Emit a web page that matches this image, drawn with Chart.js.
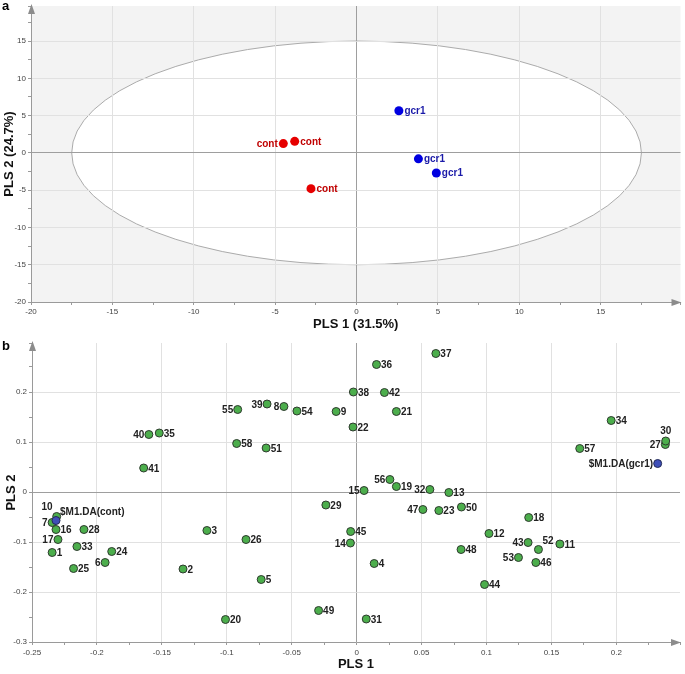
<!DOCTYPE html>
<html>
<head>
<meta charset="utf-8">
<script src="https://cdn.jsdelivr.net/npm/chart.js@4"></script>
<style>
  body { margin:0; background:#fff; }
  #wrap { position:relative; width:685px; height:674px; overflow:hidden; }
  canvas { position:absolute; left:0; }
  .plab { position:absolute; font:bold 13px "Liberation Sans", Arial, sans-serif; line-height:13px; color:#000; }
</style>
</head>
<body>
<div id="wrap">
  <canvas id="ca" width="685" height="335" style="top:0"></canvas>
  <canvas id="cb" width="685" height="344" style="top:330px"></canvas>
  <div class="plab" style="left:2px;top:-1px">a</div>
  <div class="plab" style="left:2px;top:339px">b</div>
</div>
<script>
// ---------- Panel a: PLS-DA scores ----------
const A_CONT_X = [-4.5, -3.8, -2.8];
const A_CONT_Y = [1.25, 1.55, -4.8];
const A_CONT_LABELS = ['cont', 'cont', 'cont'];
const A_GCR1_X = [2.6, 3.8, 4.9];
const A_GCR1_Y = [5.65, -0.8, -2.7];
const A_GCR1_LABELS = ['gcr1', 'gcr1', 'gcr1'];
const A_ELLIPSE_RX = 17.5;   // Hotelling T2 ellipse semi-axes
const A_ELLIPSE_RY = 15;
const A_X_MAJOR = [-20, -15, -10, -5, 0, 5, 10, 15];
const A_Y_MAJOR = [-20, -15, -10, -5, 0, 5, 10, 15];
const A_X_TITLE = 'PLS 1 (31.5%)';
const A_Y_TITLE = 'PLS 2 (24.7%)';

// ---------- Panel b: loadings ----------
const B_IDS = ['1','2','3','4','5','6','7','8','9','10','11','12','13','14','15','16','17','18','19','20',
  '21','22','23','24','25','26','27','28','29','30','31','32','33','34','35','36','37','38','39','40',
  '41','42','43','44','45','46','47','48','49','50','51','52','53','54','55','56','57','58'];
const B_X = [-0.2345, -0.1337, -0.1153, 0.0135, -0.0735, -0.1937, -0.2345, -0.056, -0.0158, -0.231,
  0.1565, 0.1019, 0.071, -0.0048, 0.0057, -0.2315, -0.230, 0.1325, 0.0306, -0.101,
  0.0306, -0.0028, 0.0633, -0.1886, -0.218, -0.0852, 0.2377, -0.210, -0.0237, 0.238,
  0.0074, 0.0564, -0.2154, 0.196, -0.152, 0.0153, 0.061, -0.0025, -0.069, -0.160,
  -0.164, 0.0214, 0.132, 0.0985, -0.0046, 0.138, 0.051, 0.0804, -0.0293, 0.0807,
  -0.0697, 0.140, 0.1246, -0.046, -0.0916, 0.0256, 0.1718, -0.0924];
const B_Y = [-0.121, -0.154, -0.077, -0.143, -0.175, -0.141, -0.061, 0.171, 0.161, -0.049,
  -0.104, -0.083, -0.001, -0.102, 0.003, -0.075, -0.095, -0.051, 0.011, -0.255,
  0.161, 0.130, -0.037, -0.119, -0.153, -0.095, 0.095, -0.075, -0.026, 0.102,
  -0.254, 0.005, -0.109, 0.143, 0.118, 0.255, 0.277, 0.200, 0.176, 0.115,
  0.048, 0.199, -0.101, -0.185, -0.079, -0.141, -0.035, -0.115, -0.237, -0.030,
  0.088, -0.115, -0.131, 0.162, 0.165, 0.025, 0.087, 0.097];
const B_DA_LABELS = ['$M1.DA(cont)', '$M1.DA(gcr1)'];
const B_DA_X = [-0.2315, 0.2318];
const B_DA_Y = [-0.057, 0.057];
const B_X_MAJOR = [-0.25, -0.2, -0.15, -0.1, -0.05, 0, 0.05, 0.1, 0.15, 0.2];
const B_Y_MAJOR = [-0.3, -0.2, -0.1, 0, 0.1, 0.2];
const B_X_TITLE = 'PLS 1';
const B_Y_TITLE = 'PLS 2';

// label placement (style, not data)
const B_PLACE = {
  '55':'left','40':'left','39':'left','8':'left','7':'left','17':'left','6':'left','15':'left',
  '56':'left','32':'left','47':'left','14':'left','43':'left','53':'left','27':'left',
  '10':'upleft','30':'up','52':'upright',
  '$M1.DA(cont)':'upright','$M1.DA(gcr1)':'left'
};
const A_PLACE_FIRST_LEFT = true;

function pts(xs, ys) { return xs.map((x, i) => ({x: x, y: ys[i]})); }
const isIn = (v, arr) => arr.some(m => Math.abs(m - v) < 1e-9);
const fmt = v => String(Number(v.toFixed(4)));

const TICK_FONT = {family: '"Liberation Sans", Arial, sans-serif', size: 8, lineHeight: 1};
const TITLE_FONT = {family: '"Liberation Sans", Arial, sans-serif', size: 13, weight: 'bold'};

function makeScale(o) {
  return {
    type: 'linear', position: o.position, min: o.min, max: o.max,
    afterFit: s => { if (o.position === 'left') s.width = o.thick; else s.height = o.thick; },
    ticks: {
      stepSize: o.minor, autoSkip: false, maxRotation: 0, minRotation: 0,
      font: TICK_FONT, color: '#444', padding: o.tpad,
      callback: v => isIn(v, o.major) ? fmt(v) : ''
    },
    grid: {
      drawTicks: true, tickLength: 3, tickColor: '#9a9a9a', lineWidth: 1,
      color: c => {
        const v = c.tick ? c.tick.value : NaN;
        if (Math.abs(v) < 1e-12) return '#9e9e9e';
        return isIn(v, o.gridVals) ? '#e1e1e1' : 'rgba(0,0,0,0)';
      }
    },
    border: {display: true, color: '#9a9a9a', width: 1},
    title: {display: true, text: o.title, font: TITLE_FONT, color: '#111', padding: o.titlePad}
  };
}

const arrowPlugin = {
  id: 'arrows',
  afterDraw(chart) {
    const {ctx, chartArea: a} = chart;
    ctx.save();
    ctx.fillStyle = '#8c8c8c';
    ctx.beginPath();
    ctx.moveTo(a.left + 0.5, a.top - 2); ctx.lineTo(a.left - 3, a.top + 8); ctx.lineTo(a.left + 4, a.top + 8);
    ctx.closePath(); ctx.fill();
    ctx.beginPath();
    ctx.moveTo(a.right + 1, a.bottom + 0.5); ctx.lineTo(a.right - 9, a.bottom - 3); ctx.lineTo(a.right - 9, a.bottom + 4);
    ctx.closePath(); ctx.fill();
    ctx.restore();
  }
};

const labelPlugin = {
  id: 'pointLabels',
  afterDatasetsDraw(chart) {
    const ctx = chart.ctx;
    chart.data.datasets.forEach((ds, di) => {
      if (!ds.pointLabels) return;
      const meta = chart.getDatasetMeta(di);
      ctx.save();
      ctx.font = ds.labelFont; ctx.fillStyle = ds.labelColor; ctx.textBaseline = 'middle';
      meta.data.forEach((el, i) => {
        const text = ds.pointLabels[i];
        const place = ds.placeFn(text, i);
        const g = ds.labelGap;
        let x = el.x, y = el.y + ds.labelDy, align = 'left';
        if (place === 'right') { x += g; }
        else if (place === 'left') { x -= g; align = 'right'; }
        else if (place === 'up') { y -= 11; align = 'center'; }
        else if (place === 'upleft') { x -= 4; y -= 10; align = 'right'; }
        else if (place === 'upright') { x += 4; y -= 9; }
        ctx.textAlign = align;
        ctx.fillText(text, x, y);
      });
      ctx.restore();
    });
  }
};

const ellipsePlugin = {
  id: 'ellipseBg',
  beforeDraw(chart) {
    if (!chart.options.plugins.ellipseBg || !chart.options.plugins.ellipseBg.on) return;
    const {ctx, chartArea: a, scales: {x, y}} = chart;
    ctx.save();
    ctx.fillStyle = '#f3f3f3';
    ctx.fillRect(a.left, a.top, a.right - a.left, a.bottom - a.top);
    const cx = x.getPixelForValue(0), cy = y.getPixelForValue(0);
    const rx = x.getPixelForValue(A_ELLIPSE_RX) - cx, ry = cy - y.getPixelForValue(A_ELLIPSE_RY);
    ctx.beginPath();
    ctx.ellipse(cx, cy, rx, ry, 0, 0, Math.PI * 2);
    ctx.fillStyle = '#ffffff'; ctx.fill();
    ctx.strokeStyle = '#ababab'; ctx.lineWidth = 1; ctx.stroke();
    ctx.restore();
  }
};

const LABEL_FONT = 'bold 10px "Liberation Sans", Arial, sans-serif';

new Chart(document.getElementById('ca'), {
  type: 'scatter',
  data: {datasets: [
    {data: pts(A_CONT_X, A_CONT_Y), pointLabels: A_CONT_LABELS, pointRadius: 4.5, pointHoverRadius: 4.5,
     backgroundColor: '#e60000', borderColor: '#e60000', borderWidth: 0,
     labelFont: LABEL_FONT, labelColor: '#c00000', labelGap: 5.5, labelDy: 0.5,
     placeFn: (t, i) => (A_PLACE_FIRST_LEFT && i === 0) ? 'left' : 'right'},
    {data: pts(A_GCR1_X, A_GCR1_Y), pointLabels: A_GCR1_LABELS, pointRadius: 4.5, pointHoverRadius: 4.5,
     backgroundColor: '#0000e0', borderColor: '#0000e0', borderWidth: 0,
     labelFont: LABEL_FONT, labelColor: '#1a1aa8', labelGap: 5.5, labelDy: 0.5,
     placeFn: () => 'right'}
  ]},
  options: {
    responsive: false, animation: false, devicePixelRatio: 1,
    layout: {padding: {top: 4, right: 3, left: 0, bottom: 0}},
    plugins: {legend: {display: false}, tooltip: {enabled: false}, ellipseBg: {on: true}},
    scales: {
      x: makeScale({position: 'bottom', min: -20, max: 19.9, minor: 2.5, major: A_X_MAJOR, gridVals: A_X_MAJOR,
        thick: 33, tpad: 3, title: A_X_TITLE, titlePad: {top: 0, bottom: 3}}),
      y: makeScale({position: 'left', min: -20, max: 19.7, minor: 2.5, major: A_Y_MAJOR, gridVals: A_Y_MAJOR,
        thick: 31, tpad: 2, title: A_Y_TITLE, titlePad: {top: 2, bottom: 0}})
    }
  },
  plugins: [ellipsePlugin, labelPlugin, arrowPlugin]
});

new Chart(document.getElementById('cb'), {
  type: 'scatter',
  data: {datasets: [
    {data: pts(B_DA_X, B_DA_Y), pointLabels: B_DA_LABELS, pointRadius: 4, pointHoverRadius: 4,
     backgroundColor: '#3f4fb8', borderColor: '#222a55', borderWidth: 1,
     labelFont: LABEL_FONT, labelColor: '#222', labelGap: 4.5, labelDy: 1,
     placeFn: t => B_PLACE[t] || 'right'},
    {data: pts(B_X, B_Y), pointLabels: B_IDS, pointRadius: 4, pointHoverRadius: 4,
     backgroundColor: '#4cae4c', borderColor: '#2e3a2e', borderWidth: 1,
     labelFont: LABEL_FONT, labelColor: '#222', labelGap: 4.5, labelDy: 1,
     placeFn: t => B_PLACE[t] || 'right'}
  ]},
  options: {
    responsive: false, animation: false, devicePixelRatio: 1,
    layout: {padding: {top: 13, right: 3, left: 0, bottom: 0}},
    plugins: {legend: {display: false}, tooltip: {enabled: false}},
    scales: {
      x: makeScale({position: 'bottom', min: -0.25, max: 0.249, minor: 0.025, major: B_X_MAJOR, gridVals: B_X_MAJOR,
        thick: 32, tpad: 4, title: B_X_TITLE, titlePad: {top: 0, bottom: 2}}),
      y: makeScale({position: 'left', min: -0.3, max: 0.298, minor: 0.05, major: B_Y_MAJOR, gridVals: B_Y_MAJOR,
        thick: 32, tpad: 2, title: B_Y_TITLE, titlePad: {top: 4, bottom: 0}})
    }
  },
  plugins: [labelPlugin, arrowPlugin]
});
</script>
</body>
</html>
